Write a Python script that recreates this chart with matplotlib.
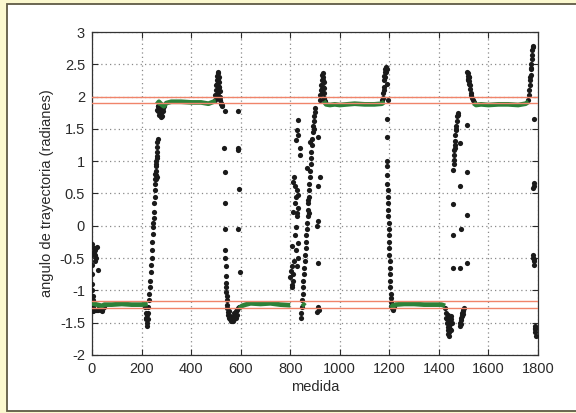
import matplotlib
matplotlib.use("Agg")
import matplotlib.pyplot as plt
from matplotlib.patches import Rectangle
import numpy as np

plt.rcParams['font.family'] = ['Liberation Sans', 'DejaVu Sans']

# ---------------- data ----------------
# black points (medida, angle)
black_start_x = [0, 1, 1, 1, 2, 2, 3, 3, 4, 5, 6, 8, 10, 12, 14, 16, 12, 19, 25,
                 2, 5, 10, 15, 20, 25, 30, 35, 40, 45, 48]
black_start_y = [-0.28, -0.45, -0.6, -0.75, -0.9, -1.0, -1.08, -1.15, -1.2, -1.25, -1.28,
                 -0.35, -0.4, -0.45, -0.38, -0.5, -0.55, -0.33, -0.69,
                 -1.3, -1.32, -1.3, -1.3, -1.31, -1.3, -1.28, -1.3, -1.32, -1.28, -1.25]

black_rise1_x = [215, 217, 218, 220, 222, 224, 226, 228, 230, 232, 234, 236, 238, 240, 241, 243,
                 244, 246, 247, 248, 250, 251, 252, 253, 254, 255, 256, 257, 258, 259, 260, 261,
                 262, 263, 264, 265, 256, 262, 260, 258, 264, 219, 221]
black_rise1_y = [-1.25, -1.35, -1.42, -1.5, -1.55, -1.45, -1.35, -1.25, -1.15, -1.05, -0.95, -0.85,
                 -0.72, -0.6, -0.5, -0.38, -0.25, -0.12, -0.02, 0.05, 0.12, 0.22, 0.35, 0.45, 0.55,
                 0.65, 0.72, 0.78, 0.85, 0.92, 1.0, 1.08, 1.15, 1.22, 1.3, 1.35, 0.8, 0.75, 0.72,
                 0.95, 1.05, -1.45, -1.38]

black_top1_x = [262, 265, 268, 270, 272, 275, 278, 280, 283, 285, 288, 290, 268, 276]
black_top1_y = [1.8, 1.85, 1.78, 1.72, 1.8, 1.75, 1.68, 1.72, 1.7, 1.78, 1.82, 1.85, 1.86, 1.82]

black_peak1_x = [495, 498, 500, 502, 504, 506, 508, 510, 512, 513, 514, 515, 516, 518, 520, 522,
                 505, 509, 511, 507, 513, 503, 524, 526]
black_peak1_y = [1.95, 2.02, 2.1, 2.18, 2.25, 2.32, 2.38, 2.36, 2.3, 2.22, 2.15, 2.08, 2.0, 1.95,
                 1.9, 1.88, 2.2, 2.28, 2.15, 2.05, 2.0, 2.0, 1.87, 1.85]

black_fall1_x = [535, 534, 535, 536, 537, 538, 538, 539, 540, 540, 541, 542, 543, 544, 545, 546,
                 548, 550, 553, 556, 560, 564, 568, 572, 575, 578, 582, 586, 590, 595,
                 552, 558, 566, 574, 580, 585, 562, 570]
black_fall1_y = [1.77, 1.21, 0.84, 0.36, -0.05, -0.37, -0.5, -0.62, -0.78, -0.88, -0.95, -1.02,
                 -1.08, -1.15, -1.22, -1.28, -1.34, -1.38, -1.42, -1.45, -1.47, -1.48, -1.46,
                 -1.44, -1.4, -1.36, -1.32, -1.3, -1.28, -1.26,
                 -1.32, -1.4, -1.42, -1.35, -1.42, -1.38, -1.44, -1.48]

black_col2_x = [588, 589, 591, 592, 588, 596]
black_col2_y = [1.77, 1.2, 1.17, 0.57, -0.05, -0.72]

black_scat1_x = [833, 826, 822, 840, 812, 826, 833, 819, 812, 826, 806, 833, 833, 806, 800, 806,
                 815, 820, 823, 830, 818, 825, 810, 815, 828, 822, 829, 838, 830, 812, 804, 809]
black_scat1_y = [1.64, 1.48, 1.33, 1.10, 0.68, 0.56, 0.48, 0.35, 0.22, 0.20, -0.32, -0.27, -0.50,
                 -0.63, -0.79, -0.92, 0.75, 0.62, 0.45, 0.28, -0.15, -0.38, -0.75, -0.55, -0.62,
                 -0.02, 0.15, 1.2, 1.4, -0.85, -0.7, -0.95]

black_rise2_x = [845, 846, 848, 850, 852, 853, 855, 857, 858, 860, 862, 863, 865, 866, 868, 870,
                 871, 873, 874, 876, 877, 879, 880, 882, 884, 885, 887, 889, 890, 892, 894, 896,
                 898, 900, 870, 875, 866, 880, 895, 843]
black_rise2_y = [-1.35, -1.25, -1.15, -1.05, -0.95, -0.85, -0.75, -0.65, -0.55, -0.45, -0.35,
                 -0.25, -0.15, -0.05, 0.05, 0.15, 0.25, 0.35, 0.45, 0.55, 0.65, 0.75, 0.85, 0.95,
                 1.05, 1.15, 1.25, 1.35, 1.45, 1.55, 1.62, 1.7, 1.76, 1.82, 0.4, 0.2, 0.9, 1.3,
                 1.5, -1.42]

black_col3_x = [913, 920, 913, 913, 907, 913, 913, 907, 915]
black_col3_y = [1.38, 0.76, 0.61, 0.07, -0.01, -0.58, -1.25, -1.33, -1.3]

black_peak2_x = [920, 922, 924, 926, 928, 930, 932, 934, 935, 936, 937, 938, 940, 927, 931, 933,
                 929]
black_peak2_y = [1.95, 2.02, 2.1, 2.18, 2.26, 2.33, 2.36, 2.3, 2.22, 2.14, 2.06, 1.98, 1.93,
                 2.05, 2.15, 2.25, 2.12]

black_peak3_x = [1172, 1175, 1177, 1178, 1180, 1182, 1184, 1186, 1188, 1190, 1186, 1183, 1179,
                 1176, 1191, 1193]
black_peak3_y = [1.95, 2.05, 2.15, 2.25, 2.32, 2.38, 2.43, 2.46, 2.45, 2.42, 2.38, 2.3, 2.1,
                 1.98, 2.2, 1.95]

black_fall3_x = [1190, 1190, 1191, 1191, 1192, 1192, 1193, 1193, 1194, 1195, 1196, 1197, 1198,
                 1198, 1199, 1200, 1200, 1201, 1202, 1202, 1203, 1204, 1205, 1206, 1207, 1208,
                 1210, 1213, 1216, 1220]
black_fall3_y = [1.65, 1.37, 1.0, 0.92, 0.78, 0.65, 0.55, 0.45, 0.35, 0.25, 0.15, 0.05, -0.05,
                 -0.15, -0.25, -0.35, -0.45, -0.55, -0.65, -0.75, -0.85, -0.95, -1.05, -1.12,
                 -1.18, -1.24, -1.28, -1.3, -1.28, -1.25]

black_dip4_x = [1425, 1428, 1430, 1432, 1435, 1438, 1441, 1444, 1446, 1448, 1450, 1434, 1440,
                1443, 1437, 1452, 1447, 1436, 1442]
black_dip4_y = [-1.28, -1.35, -1.42, -1.5, -1.57, -1.62, -1.65, -1.6, -1.52, -1.45, -1.4, -1.45,
                -1.55, -1.48, -1.38, -1.5, -1.62, -1.68, -1.7]

black_clu5_x = [1485, 1487, 1489, 1491, 1493, 1495, 1497, 1499, 1501, 1488, 1494, 1498]
black_clu5_y = [-1.55, -1.5, -1.46, -1.42, -1.38, -1.35, -1.32, -1.3, -1.28, -1.52, -1.4, -1.36]

black_sparse5_x = [1456, 1512, 1485, 1456, 1512, 1488, 1456, 1456, 1485, 1512]
black_sparse5_y = [0.86, 0.83, 0.61, 0.33, 0.16, -0.05, -0.14, -0.66, -0.66, -0.58]

black_rise5_x = [1460, 1461, 1462, 1463, 1464, 1465, 1466, 1468, 1470, 1472, 1474, 1476, 1478,
                 1471, 1467, 1485, 1512]
black_rise5_y = [0.95, 1.02, 1.1, 1.18, 1.25, 1.32, 1.4, 1.48, 1.55, 1.62, 1.7, 1.75, 1.72, 1.5,
                 1.2, 1.28, 1.56]

black_peak6_x = [1515, 1516, 1518, 1519, 1520, 1522, 1521, 1524, 1526, 1528, 1530, 1533, 1536,
                 1540, 1517, 1523]
black_peak6_y = [2.38, 2.32, 2.36, 2.28, 2.3, 2.24, 2.2, 2.18, 2.12, 2.06, 2.02, 1.98, 1.95,
                 1.92, 2.25, 2.3]

black_rise7_x = [1760, 1763, 1765, 1767, 1768, 1770, 1771, 1773, 1774, 1776, 1777, 1778, 1780,
                 1769, 1772]
black_rise7_y = [1.95, 2.02, 2.1, 2.18, 2.26, 2.34, 2.42, 2.5, 2.58, 2.65, 2.72, 2.77, 2.78,
                 2.3, 2.45]

black_end_x = [1782, 1782, 1783, 1781, 1780, 1781, 1782, 1784, 1785, 1786, 1787, 1788, 1790, 1789]
black_end_y = [1.65, 0.67, 0.62, 0.58, -0.45, -0.5, -0.55, -0.6, -0.52, -1.55, -1.6, -1.65,
               -1.7, -1.58]

# green stable stretches (medida, angle)
green_lo1_x = [0, 20, 40, 50, 80, 120, 160, 200, 225]
green_lo1_y = [-1.2, -1.22, -1.24, -1.22, -1.22, -1.21, -1.22, -1.22, -1.21]
green_up1_x = [262, 270, 280, 290, 300, 320, 360, 400, 440, 470, 490, 500]
green_up1_y = [1.88, 1.92, 1.88, 1.85, 1.9, 1.92, 1.92, 1.91, 1.91, 1.89, 1.92, 1.93]
green_lo2_x = [595, 605, 620, 640, 680, 720, 760, 800]
green_lo2_y = [-1.28, -1.24, -1.22, -1.2, -1.21, -1.2, -1.22, -1.23]
green_bit_x = [848, 860]
green_bit_y = [-1.2, -1.24]
green_up2_x = [935, 945, 960, 980, 1000, 1030, 1060, 1100, 1140, 1170, 1180]
green_up2_y = [1.93, 1.88, 1.87, 1.88, 1.87, 1.88, 1.89, 1.88, 1.88, 1.89, 1.92]
green_lo3_x = [1205, 1215, 1225, 1260, 1300, 1340, 1380, 1410, 1425]
green_lo3_y = [-1.22, -1.25, -1.22, -1.21, -1.21, -1.22, -1.22, -1.22, -1.24]
green_up3_x = [1540, 1550, 1570, 1600, 1640, 1680, 1720, 1750, 1762]
green_up3_y = [1.9, 1.87, 1.88, 1.87, 1.88, 1.88, 1.87, 1.89, 1.92]

# reference thresholds (red lines)
red_levels = [2.0, 1.9, -1.16, -1.265]

x_ticks = [0, 200, 400, 600, 800, 1000, 1200, 1400, 1600, 1800]
y_ticks = [-2, -1.5, -1, -0.5, 0, 0.5, 1, 1.5, 2, 2.5, 3]
y_tick_labels = ['-2', '-1.5', '-1', '-0.5', '0', '0.5', '1', '1.5', '2', '2.5', '3']

# ---------------- figure ----------------
fig = plt.figure(figsize=(5.76, 4.13), dpi=100, facecolor='#fbf8cf')
panel = Rectangle((7 / 576, 2 / 413), 1.2, 407 / 413, transform=fig.transFigure,
                  facecolor='white', edgecolor='#5f5a45', linewidth=1.3, zorder=-10)
fig.patches.append(panel)

ax = fig.add_axes([92 / 576, 58 / 413, 446 / 576, 323 / 413])
ax.set_zorder(5)
ax.set_facecolor('white')

black_sets = [
    (black_start_x, black_start_y), (black_rise1_x, black_rise1_y), (black_top1_x, black_top1_y),
    (black_peak1_x, black_peak1_y), (black_fall1_x, black_fall1_y), (black_col2_x, black_col2_y),
    (black_scat1_x, black_scat1_y), (black_rise2_x, black_rise2_y), (black_col3_x, black_col3_y),
    (black_peak2_x, black_peak2_y), (black_peak3_x, black_peak3_y), (black_fall3_x, black_fall3_y),
    (black_dip4_x, black_dip4_y), (black_clu5_x, black_clu5_y), (black_sparse5_x, black_sparse5_y),
    (black_rise5_x, black_rise5_y), (black_peak6_x, black_peak6_y), (black_rise7_x, black_rise7_y),
    (black_end_x, black_end_y),
]
for bx, by in black_sets:
    ax.scatter(bx, by, s=14, color='#1a1a1a', linewidths=0, zorder=3)

green_sets = [
    (green_lo1_x, green_lo1_y), (green_up1_x, green_up1_y), (green_lo2_x, green_lo2_y),
    (green_bit_x, green_bit_y), (green_up2_x, green_up2_y), (green_lo3_x, green_lo3_y),
    (green_up3_x, green_up3_y),
]
for gx, gy in green_sets:
    ax.plot(gx, gy, color='#2c8239', linewidth=3.4, solid_capstyle='butt', zorder=4)

for lvl in red_levels:
    ax.axhline(lvl, color='#f0846a', linewidth=1.0, zorder=5)

ax.set_xlim(0, 1800)
ax.set_ylim(-2, 3)
ax.set_xticks(x_ticks)
ax.set_yticks(y_ticks)
ax.set_yticklabels(y_tick_labels)
ax.grid(True, linestyle=(0, (1, 2.5)), color='#8a8a8a', linewidth=0.9)
ax.set_axisbelow(True)
ax.tick_params(direction='in', top=True, right=True, length=4, width=0.8,
               labelsize=10.5, colors='#2a2a2a', pad=5)
for sp in ax.spines.values():
    sp.set_color('#333333')
    sp.set_linewidth(0.9)

ax.set_xlabel('medida', fontsize=10.5, color='#2a2a2a', labelpad=3)
ax.set_ylabel('angulo de trayectoria (radianes)', fontsize=10.5, color='#2a2a2a', labelpad=4)

fig.savefig('out.png', dpi=100, facecolor=fig.get_facecolor())
